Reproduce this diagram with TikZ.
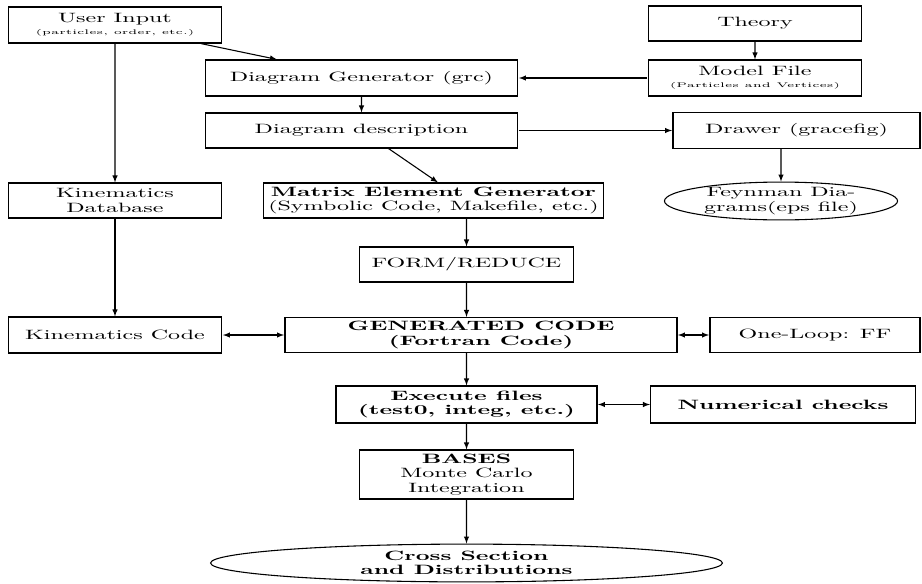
\documentclass[tikz,border=0pt]{standalone}
\usepackage{tikz}
\usetikzlibrary{shapes.geometric}

\begin{document}
\begin{tikzpicture}[x=0.7407pt, y=-0.7407pt, >=latex, line width=0.8pt,
    every node/.style={xscale=1.78, font=\fontsize{10}{10.5}\selectfont, align=center, inner sep=2pt},
    block/.style={draw, rectangle, minimum width=89pt, minimum height=26.7pt},
    oval/.style={draw, ellipse, inner sep=0pt, minimum height=28pt},
    bold/.style={font=\fontsize{10}{10.5}\selectfont\bfseries}]
    \useasboundingbox (0,0) rectangle (922,583);

    % Input and Kinematics Nodes
    \node (user) [block] at (115,25) {User Input\\[-1.5pt]{\tiny (particles, order, etc.)}};
    \node (kindb) [block, minimum height=25.9pt] at (115,200.5) {Kinematics\\Database};
    \node (kincode) [block] at (115,335) {Kinematics Code};

    % Theory and Drawer Nodes
    \node (theory) [block, minimum height=25.9pt] at (755,23.5) {Theory};
    \node (model) [block] at (755,78) {Model File\\[-1.5pt]{\tiny (Particles and Vertices)}};
    \node (drawer) [block, minimum width=102.8pt] at (796.5,130.5) {Drawer (gracefig)};
    \node (feyn) [oval, minimum width=97pt] at (781,201) {Feynman Dia-\\grams(eps file)};

    % Generator Nodes
    \node (diaggen) [block, minimum width=130.2pt] at (361.5,78) {Diagram Generator (grc)};
    \node (diagdesc) [block, minimum width=130pt, minimum height=25.9pt] at (361.5,130.5) {Diagram description};
    \node (matrix) [block, minimum width=122.8pt, minimum height=25.9pt] at (433.5,200.5) {\textbf{Matrix Element Generator}\\(Symbolic Code, Makefile, etc.)};
    \node (form) [block, minimum height=25.9pt] at (466.5,264.5) {FORM/REDUCE};

    % Code and Integration Nodes
    \node (gencode) [block, bold, minimum width=163.1pt, minimum height=25.9pt] at (481,335) {GENERATED CODE\\(Fortran Code)};
    \node (oneloop) [block, minimum width=87.4pt, minimum height=25.9pt] at (815,335) {One-Loop: FF};
    \node (exec) [block, bold, minimum width=108.6pt, minimum height=27.4pt] at (466.5,404.5) {Execute files\\(test0, integ, etc.)};
    \node (numcheck) [block, bold, minimum width=109.9pt, minimum height=27.4pt] at (783,404.5) {Numerical checks};
    \node (bases) [block, minimum height=36.3pt] at (466.5,474.5) {\textbf{BASES}\\Monte Carlo\\Integration};
    \node (cross) [oval, bold, minimum width=213pt] at (466.5,563) {Cross Section\\and Distributions};

    % Arrows
    \draw[->] ([xshift=-16.3pt]user.south east) -- ([xshift=54pt]diaggen.north west);
    \draw[->] (user) -- (kindb);
    \draw[->] (kindb) -- (kincode);
    \draw[->] (theory) -- (model);
    \draw[->] (model) -- (diaggen);
    \draw[->] (diaggen) -- (diagdesc);
    \draw[->] (diagdesc) -- (drawer);
    \draw[->] (drawer.south -| feyn.north) -- (feyn);
    \draw[->] ([xshift=20pt]diagdesc.south) -- ([xshift=3.3pt]matrix.north);
    \draw[->] (matrix.south -| form.north) -- (form);
    \draw[->] (form) -- (form |- gencode.north);
    \draw[<->] (kincode) -- (gencode);
    \draw[<->] (gencode) -- (oneloop);
    \draw[->] (gencode.south -| exec.north) -- (exec);
    \draw[<->] (exec) -- (numcheck);
    \draw[->] (exec) -- (bases);
    \draw[->] (bases) -- (cross);
\end{tikzpicture}
\end{document}
